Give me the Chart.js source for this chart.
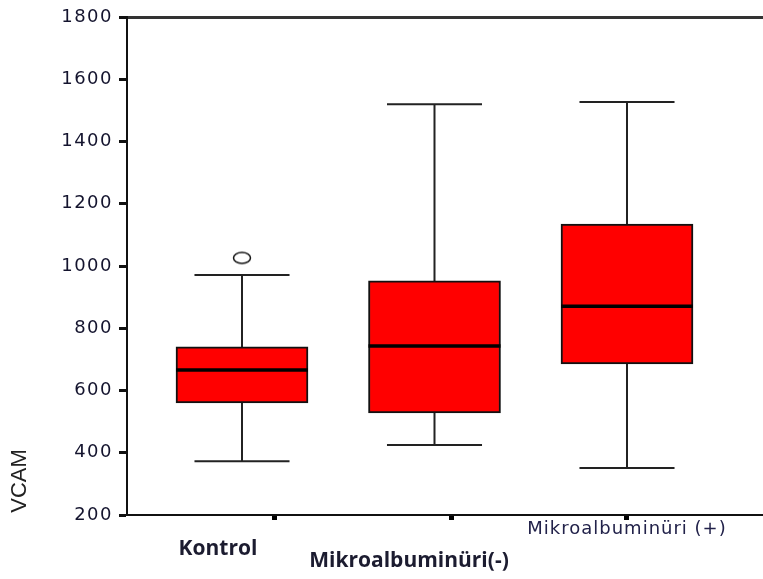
<!DOCTYPE html>
<html>
<head>
<meta charset="utf-8">
<script src="https://cdn.jsdelivr.net/npm/chart.js@4.4.1/dist/chart.umd.min.js"></script>
<style>
html, body { margin: 0; padding: 0; background: #fff; }
</style>
</head>
<body>
<canvas id="boxChart" width="763" height="579"></canvas>
<script>
// box statistics (VCAM per group)
const groups = ['Kontrol', 'Mikroalbuminüri(-)', 'Mikroalbuminüri (+)'];
const groupPos = [1, 2, 3];
const whiskerLow = [373, 425, 351];
const q1 = [560, 528, 685];
const median = [666, 743, 871];
const q3 = [740, 952, 1135];
const whiskerHigh = [971, 1520, 1527];
const outliers = [{ x: 1, y: 1026 }];

const yTicks = [200, 400, 600, 800, 1000, 1200, 1400, 1600, 1800];
const xTickPos = [1.17, 2.09, 3.0]; // the x tick marks sit off-centre in the original

// small open ellipse for the outlier marker
const ring = document.createElement('canvas');
ring.width = 22; ring.height = 15;
const rc = ring.getContext('2d');
rc.strokeStyle = '#111';
rc.lineWidth = 1.5;
rc.beginPath();
rc.ellipse(11, 7.5, 8.5, 5.5, 0, 0, Math.PI * 2);
rc.stroke();

const boxParts = {
  id: 'boxParts',
  beforeDraw(chart) {
    chart.ctx.letterSpacing = '1.5px';
  },
  beforeDatasetsDraw(chart) {
    const ctx = chart.ctx;
    const y = chart.scales.y;
    const meta = chart.getDatasetMeta(0);
    ctx.save();
    ctx.letterSpacing = '0px';
    ctx.strokeStyle = '#222';
    ctx.lineWidth = 2;
    meta.data.forEach((bar, i) => {
      const cap = bar.width * 0.36;
      const yHi = y.getPixelForValue(whiskerHigh[i]);
      const yLo = y.getPixelForValue(whiskerLow[i]);
      ctx.beginPath();
      ctx.moveTo(bar.x, y.getPixelForValue(q3[i]));
      ctx.lineTo(bar.x, yHi);
      ctx.moveTo(bar.x - cap, yHi);
      ctx.lineTo(bar.x + cap, yHi);
      ctx.moveTo(bar.x, y.getPixelForValue(q1[i]));
      ctx.lineTo(bar.x, yLo);
      ctx.moveTo(bar.x - cap, yLo);
      ctx.lineTo(bar.x + cap, yLo);
      ctx.stroke();
    });
    ctx.restore();
  },
  afterDatasetsDraw(chart) {
    const ctx = chart.ctx;
    const y = chart.scales.y;
    const meta = chart.getDatasetMeta(0);
    ctx.save();
    ctx.strokeStyle = '#000';
    ctx.lineWidth = 3.5;
    meta.data.forEach((bar, i) => {
      const ym = y.getPixelForValue(median[i]);
      ctx.beginPath();
      ctx.moveTo(bar.x - bar.width / 2, ym);
      ctx.lineTo(bar.x + bar.width / 2, ym);
      ctx.stroke();
    });
    ctx.restore();
  },
  afterDraw(chart) {
    const ctx = chart.ctx;
    const a = chart.chartArea;
    ctx.save();
    ctx.letterSpacing = '0px';
    ctx.fillStyle = '#1c1c30';
    ctx.textBaseline = 'alphabetic';
    ctx.textAlign = 'center';
    ctx.font = 'bold 21px "Open Sans"';
    ctx.fillText(groups[0], a.left + 91, a.bottom + 40);
    ctx.fillText(groups[1], a.left + 282, a.bottom + 52);
    ctx.font = '18px "DejaVu Sans"';
    ctx.letterSpacing = '1px';
    ctx.fillStyle = '#22224a';
    ctx.fillText(groups[2], a.left + 500, a.bottom + 19);
    // y axis title, low on the axis like the original
    ctx.letterSpacing = '0px';
    ctx.fillStyle = '#222';
    ctx.font = '22px "Liberation Sans"';
    ctx.translate(20, 481);
    ctx.rotate(-Math.PI / 2);
    ctx.textBaseline = 'middle';
    ctx.fillText('VCAM', 0, 0);
    ctx.restore();
  }
};

new Chart(document.getElementById('boxChart'), {
  type: 'bar',
  data: {
    datasets: [
      {
        type: 'bar',
        data: groupPos.map((p, i) => ({ x: p, y: [q1[i], q3[i]] })),
        backgroundColor: '#ff0000',
        borderColor: '#111',
        borderWidth: 2,
        borderSkipped: false,
        barThickness: 132
      },
      {
        type: 'scatter',
        data: outliers,
        pointStyle: ring,
        radius: 7
      }
    ]
  },
  options: {
    responsive: false,
    animation: false,
    layout: { autoPadding: false, padding: { top: 17, left: 0, right: 0, bottom: 0 } },
    plugins: {
      legend: { display: false },
      tooltip: { enabled: false }
    },
    scales: {
      x: {
        type: 'linear',
        offset: false,
        min: 0.4026,
        max: 3.7065,
        afterBuildTicks: s => { s.ticks = xTickPos.map(v => ({ value: v })); },
        afterFit: s => {
          s.height = 64;
          s.paddingLeft = 0;
          s.paddingRight = 0;
        },
        ticks: { display: false, autoSkip: false },
        grid: {
          offset: false,
          drawOnChartArea: false,
          drawTicks: true,
          tickLength: 5,
          tickWidth: 5,
          tickColor: '#000'
        },
        border: { display: true, color: '#111', width: 2 }
      },
      y: {
        min: 200,
        max: 1800,
        afterBuildTicks: s => { s.ticks = yTicks.map(v => ({ value: v })); },
        afterFit: s => { s.width = 127; },
        ticks: {
          font: { family: 'DejaVu Sans', size: 18 },
          color: '#14142e',
          padding: 6,
          callback: v => String(v)
        },
        grid: {
          color: c => (c.tick && c.tick.value === 1800 ? '#333' : 'rgba(0,0,0,0)'),
          lineWidth: c => (c.tick && c.tick.value === 1800 ? 3 : 1),
          drawTicks: true,
          tickLength: 8,
          tickWidth: 3,
          tickColor: '#111'
        },
        border: { display: true, color: '#111', width: 2 }
      }
    }
  },
  plugins: [boxParts]
});
</script>
</body>
</html>
